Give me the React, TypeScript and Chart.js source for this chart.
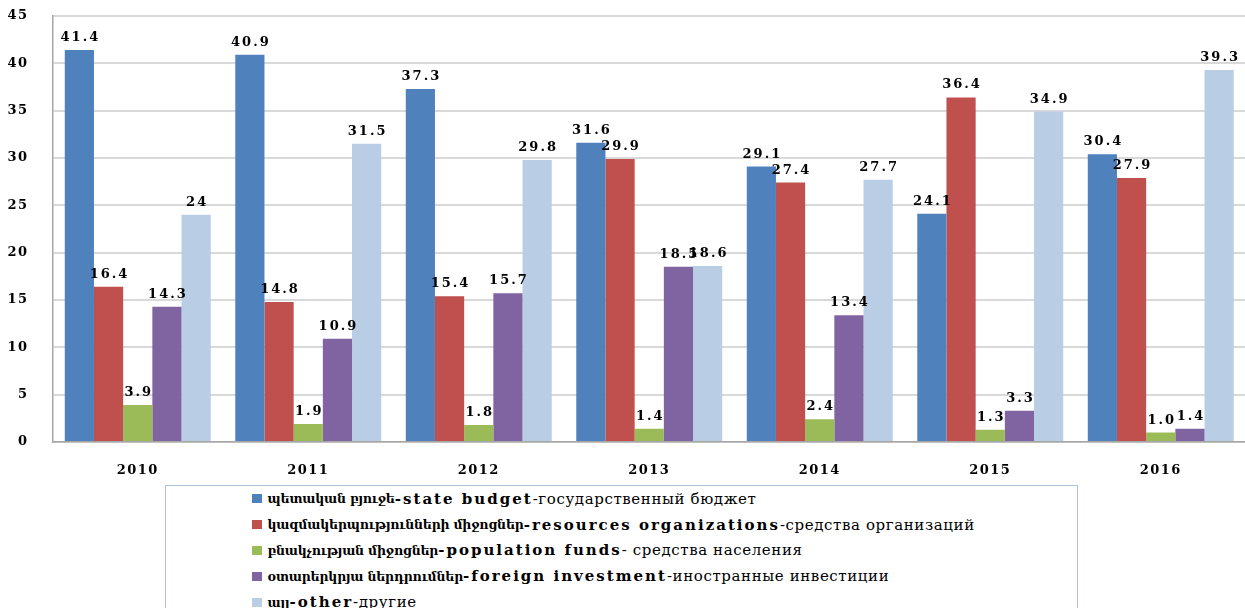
import React, { useEffect, useRef } from "react";
import { Chart, registerables } from "chart.js";

Chart.register(...registerables);

const years = ["2010", "2011", "2012", "2013", "2014", "2015", "2016"];
const stateBudget = [41.4, 40.9, 37.3, 31.6, 29.1, 24.1, 30.4];
const resourcesOrganizations = [16.4, 14.8, 15.4, 29.9, 27.4, 36.4, 27.9];
const populationFunds = [3.9, 1.9, 1.8, 1.4, 2.4, 1.3, 1.0];
const foreignInvestment = [14.3, 10.9, 15.7, 18.5, 13.4, 3.3, 1.4];
const other = [24, 31.5, 29.8, 18.6, 27.7, 34.9, 39.3];
const yTicks = [0, 5, 10, 15, 20, 25, 30, 35, 40, 45];

const seriesColors = ["#4F81BD", "#C0504D", "#9BBB59", "#8064A2", "#B9CDE5"];
const legendArmenian = [
  "պետական բյուջե",
  "կազմակերպությունների միջոցներ",
  "բնակչության միջոցներ",
  "օտարերկրյա ներդրումներ",
  "այլ",
];
const legendEnglish = [
  "-state budget",
  "-resources organizations",
  "-population funds",
  "-foreign investment",
  "-other",
];
const legendRussian = [
  "-государственный бюджет",
  "-средства организаций",
  "- средства населения",
  "-иностранные инвестиции",
  "-другие",
];
// label text override where the source shows an integer
const labelOverrides: Record<string, string> = { "4-0": "24" };

const FONT = "'DejaVu Serif', serif";

const spacingPlugin = {
  id: "spacing",
  beforeUpdate(chart: any) {
    chart.ctx.letterSpacing = "1.5px";
  },
  beforeDraw(chart: any) {
    chart.ctx.letterSpacing = "1.5px";
  },
};

const valueLabels = {
  id: "valueLabels",
  afterDatasetsDraw(chart: any) {
    const ctx = chart.ctx;
    ctx.save();
    ctx.letterSpacing = "2px";
    ctx.font = `bold 13px ${FONT}`;
    ctx.fillStyle = "#000";
    ctx.textAlign = "center";
    ctx.textBaseline = "alphabetic";
    chart.data.datasets.forEach((ds: any, di: number) => {
      const meta = chart.getDatasetMeta(di);
      meta.data.forEach((bar: any, i: number) => {
        const v = ds.data[i];
        const txt = labelOverrides[`${di}-${i}`] ?? v.toFixed(1);
        ctx.fillText(txt, bar.x + 1, bar.y - 9);
      });
    });
    ctx.restore();
  },
};

function BarChart() {
  const ref = useRef<HTMLCanvasElement>(null);
  useEffect(() => {
    if (!ref.current) return;
    const data = [stateBudget, resourcesOrganizations, populationFunds, foreignInvestment, other];
    const chart = new Chart(ref.current, {
      type: "bar",
      data: {
        labels: years,
        datasets: data.map((d, i) => ({
          label: legendEnglish[i],
          data: d,
          backgroundColor: seriesColors[i],
          barPercentage: 1,
          categoryPercentage: 0.856,
        })),
      },
      options: {
        animation: false,
        responsive: false,
        maintainAspectRatio: false,
        layout: { padding: { left: 0, right: 4, top: 16, bottom: 0 } },
        plugins: { legend: { display: false }, tooltip: { enabled: false } },
        scales: {
          x: {
            grid: { display: false, drawTicks: false },
            border: { display: true, color: "#A6A6A6", width: 1.5 },
            ticks: { color: "#000", font: { family: FONT, size: 13, weight: "bold" }, padding: 21 },
            afterFit(scale: any) {
              scale.height = 38;
            },
          },
          y: {
            min: 0,
            max: 45,
            afterBuildTicks(scale: any) {
              scale.ticks = yTicks.map((v) => ({ value: v }));
            },
            grid: { color: "#D9D9D9", lineWidth: 2, drawTicks: false },
            border: { display: true, color: "#A6A6A6", width: 1.5 },
            ticks: { color: "#000", font: { family: FONT, size: 13, weight: "bold" }, padding: 24 },
            afterFit(scale: any) {
              scale.width = 52.5;
              scale.paddingTop = 0;
              scale.paddingBottom = 0;
            },
          },
        },
      },
      plugins: [spacingPlugin, valueLabels],
    });
    return () => chart.destroy();
  }, []);
  return <canvas ref={ref} width={1250} height={480} style={{ position: "absolute", left: 0, top: 0 }} />;
}

export default function App() {
  return (
    <div style={{ position: "fixed", left: 0, top: 0, width: 1245, height: 608, overflow: "hidden", background: "#fff" }}>
      <BarChart />
      <div
        style={{
          position: "absolute",
          left: 165,
          top: 485,
          width: 913,
          height: 140,
          border: "1.5px solid #A9BFDA",
          boxSizing: "border-box",
          fontFamily: FONT,
          color: "#000",
          paddingTop: 0,
        }}
      >
        {legendArmenian.map((a, i) => (
          <div key={i} style={{ display: "flex", alignItems: "center", height: 25.8, marginLeft: 85.5, whiteSpace: "nowrap" }}>
            <span style={{ display: "inline-block", width: 10, height: 9, background: seriesColors[i], marginRight: 6 }} />
            <span style={{ fontWeight: "bold", fontSize: 12.5, letterSpacing: "-0.2px" }}>{a}</span>
            <span style={{ fontWeight: "bold", fontSize: 15, letterSpacing: "2px" }}>{legendEnglish[i]}</span>
            <span style={{ fontSize: 15, letterSpacing: "0.6px" }}>{legendRussian[i]}</span>
          </div>
        ))}
      </div>
    </div>
  );
}
